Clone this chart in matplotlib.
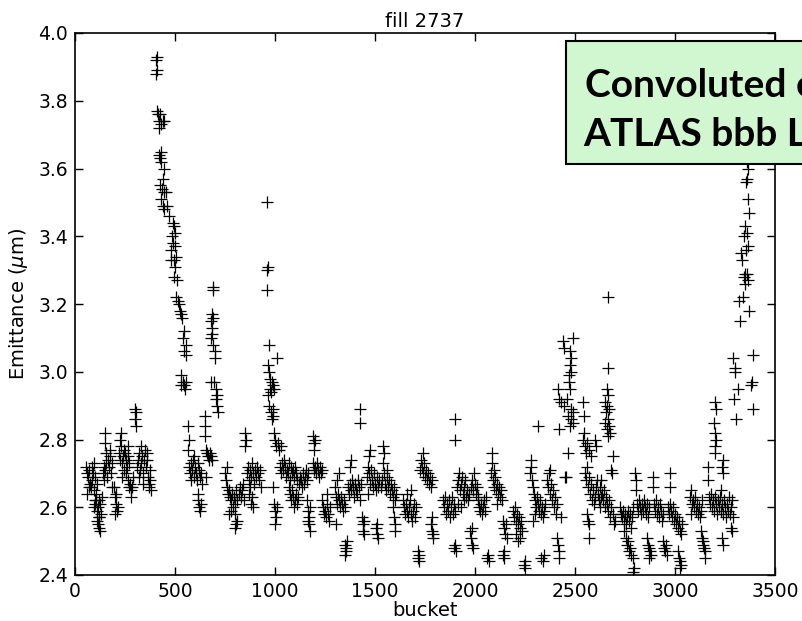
import matplotlib
matplotlib.use("Agg")
import matplotlib.pyplot as plt
from matplotlib.patches import Rectangle

# emittance per bucket, grouped by train
train_01 = [(55, 2.72), (60, 2.70), (65, 2.69), (70, 2.71), (75, 2.67), (80, 2.66), (85, 2.68), (90, 2.70),
            (95, 2.65), (100, 2.69), (105, 2.64), (110, 2.67), (60, 2.64), (70, 2.66), (85, 2.72), (95, 2.73),
            (100, 2.62), (95, 2.60), (100, 2.61), (105, 2.62), (110, 2.59), (115, 2.60), (120, 2.62),
            (125, 2.61), (130, 2.58), (135, 2.63), (120, 2.57), (110, 2.56), (115, 2.55), (118, 2.54),
            (122, 2.57), (125, 2.53)]
train_02 = [(140, 2.70), (145, 2.72), (150, 2.71), (155, 2.73), (160, 2.69), (165, 2.74), (170, 2.72),
            (175, 2.75), (180, 2.70), (185, 2.73), (150, 2.79), (150, 2.82), (155, 2.76), (145, 2.68),
            (175, 2.77), (185, 2.66), (195, 2.66), (200, 2.63), (205, 2.61), (210, 2.59), (200, 2.58),
            (205, 2.64), (215, 2.60)]
train_03 = [(220, 2.76), (225, 2.74), (230, 2.78), (235, 2.73), (240, 2.75), (245, 2.77), (250, 2.76),
            (255, 2.74), (260, 2.72), (265, 2.75), (230, 2.82), (225, 2.80), (245, 2.71), (255, 2.70),
            (270, 2.73), (235, 2.69), (265, 2.78), (265, 2.68), (270, 2.66), (275, 2.67), (280, 2.65),
            (285, 2.66), (280, 2.63), (290, 2.69)]
train_04 = [(300, 2.89), (305, 2.88), (300, 2.86), (305, 2.84), (310, 2.72), (315, 2.74), (320, 2.76),
            (325, 2.71), (330, 2.73), (335, 2.75), (340, 2.70), (345, 2.74), (350, 2.77), (355, 2.72),
            (360, 2.74), (365, 2.69), (370, 2.66), (375, 2.68), (380, 2.65), (370, 2.67), (375, 2.71),
            (320, 2.69), (340, 2.67), (360, 2.76), (330, 2.78)]
train_05 = [(405, 3.92), (410, 3.93), (405, 3.88), (410, 3.89), (410, 3.77), (415, 3.76), (420, 3.74),
            (425, 3.76), (430, 3.73), (440, 3.74), (445, 3.74), (420, 3.72), (420, 3.64), (425, 3.63),
            (430, 3.65), (430, 3.62), (445, 3.60), (440, 3.57), (425, 3.55), (435, 3.54), (445, 3.53),
            (430, 3.51), (455, 3.53), (440, 3.49), (445, 3.48), (460, 3.49), (470, 3.46), (490, 3.44),
            (495, 3.43), (485, 3.40), (500, 3.41), (490, 3.38), (480, 3.36), (500, 3.37), (505, 3.34),
            (495, 3.33), (480, 3.33), (500, 3.31), (495, 3.28), (510, 3.27), (505, 3.22), (515, 3.21),
            (520, 3.20), (525, 3.18), (530, 3.17), (535, 3.16), (545, 3.12), (540, 3.10), (555, 3.08),
            (545, 3.06), (555, 3.05), (530, 2.99), (540, 2.97), (545, 2.96), (530, 2.96), (555, 2.97),
            (550, 2.95)]
train_06 = [(565, 2.84), (570, 2.80), (565, 2.77), (570, 2.72), (575, 2.70), (580, 2.73), (585, 2.71),
            (590, 2.74), (595, 2.69), (600, 2.72), (605, 2.70), (610, 2.68), (615, 2.73), (620, 2.71),
            (625, 2.69), (630, 2.70), (635, 2.67), (580, 2.68), (595, 2.75), (650, 2.87), (650, 2.84),
            (650, 2.81), (655, 2.77), (660, 2.76), (665, 2.75), (670, 2.74), (675, 2.76), (680, 2.75),
            (685, 2.74), (655, 2.69), (615, 2.62), (620, 2.60), (625, 2.59), (615, 2.64), (630, 2.61)]
train_07 = [(690, 3.25), (690, 3.24), (685, 3.17), (690, 3.16), (680, 3.15), (685, 3.13), (680, 3.10),
            (690, 3.08), (685, 3.11), (700, 3.06), (700, 3.04), (695, 2.97), (680, 2.97), (705, 2.95),
            (710, 2.93), (705, 2.92), (710, 2.90), (715, 2.88)]
train_08 = [(750, 2.70), (755, 2.68), (760, 2.66), (765, 2.64), (770, 2.65), (775, 2.63), (780, 2.62),
            (785, 2.64), (790, 2.60), (795, 2.63), (800, 2.61), (805, 2.65), (810, 2.62), (760, 2.72),
            (770, 2.58), (780, 2.59), (800, 2.58), (805, 2.55), (810, 2.56), (800, 2.54), (820, 2.64),
            (825, 2.66), (830, 2.63), (835, 2.65), (840, 2.67), (845, 2.62), (850, 2.82), (855, 2.80),
            (850, 2.78)]
train_09 = [(860, 2.70), (865, 2.72), (870, 2.68), (875, 2.71), (880, 2.69), (885, 2.73), (890, 2.70),
            (895, 2.67), (900, 2.71), (905, 2.69), (910, 2.72), (915, 2.70), (920, 2.68), (870, 2.64),
            (880, 2.61), (885, 2.63), (890, 2.60), (875, 2.66), (925, 2.71), (930, 2.66)]
train_10 = [(960, 3.50), (960, 3.30), (965, 3.31), (960, 3.24), (970, 3.08), (1010, 3.04), (965, 3.02),
            (970, 3.00), (975, 2.98), (985, 2.97), (990, 2.96), (975, 2.95), (980, 2.94), (965, 2.93),
            (995, 2.95), (970, 2.90), (980, 2.88), (990, 2.87), (985, 2.86), (990, 2.89), (995, 2.82),
            (1000, 2.80), (1005, 2.78), (1015, 2.79), (1020, 2.77), (1030, 2.78), (990, 2.66),
            (995, 2.61), (1000, 2.59), (1005, 2.57), (1000, 2.55), (1010, 2.60)]
train_11 = [(1025, 2.72), (1030, 2.70), (1035, 2.73), (1040, 2.71), (1045, 2.74), (1050, 2.72),
            (1055, 2.69), (1060, 2.71), (1065, 2.70), (1070, 2.73), (1075, 2.68), (1080, 2.72),
            (1085, 2.70), (1090, 2.71), (1095, 2.69), (1100, 2.72), (1105, 2.70), (1110, 2.68),
            (1070, 2.66), (1075, 2.64), (1080, 2.62), (1085, 2.65), (1090, 2.63), (1095, 2.60),
            (1100, 2.62), (1105, 2.64), (1110, 2.61), (1115, 2.63), (1120, 2.67), (1125, 2.69),
            (1130, 2.68), (1135, 2.66), (1140, 2.70), (1145, 2.67), (1150, 2.69), (1155, 2.71),
            (1160, 2.68), (1165, 2.70), (1160, 2.62), (1165, 2.59), (1170, 2.57), (1175, 2.60),
            (1170, 2.55), (1175, 2.53), (1165, 2.56)]
train_12 = [(1190, 2.81), (1195, 2.79), (1200, 2.80), (1195, 2.77), (1190, 2.73), (1195, 2.71),
            (1200, 2.72), (1205, 2.70), (1210, 2.73), (1215, 2.71), (1220, 2.69), (1225, 2.72),
            (1230, 2.70), (1235, 2.71), (1235, 2.62), (1240, 2.60), (1245, 2.58), (1250, 2.59),
            (1255, 2.57), (1260, 2.61), (1265, 2.58), (1270, 2.56), (1275, 2.60), (1260, 2.64)]
train_13 = [(1300, 2.66), (1305, 2.63), (1310, 2.61), (1315, 2.64), (1320, 2.62), (1325, 2.60),
            (1330, 2.63), (1335, 2.61), (1340, 2.59), (1345, 2.62), (1350, 2.60), (1310, 2.68),
            (1320, 2.70), (1305, 2.55), (1350, 2.49), (1355, 2.48), (1355, 2.47), (1360, 2.50),
            (1350, 2.46)]
train_14 = [(1365, 2.66), (1370, 2.64), (1375, 2.67), (1380, 2.65), (1385, 2.68), (1390, 2.66),
            (1395, 2.63), (1400, 2.67), (1405, 2.65), (1410, 2.64), (1415, 2.68), (1420, 2.66),
            (1425, 2.62), (1375, 2.72), (1380, 2.74), (1430, 2.67), (1425, 2.89), (1425, 2.85),
            (1435, 2.57), (1440, 2.55), (1440, 2.53), (1445, 2.52), (1445, 2.56)]
train_15 = [(1460, 2.69), (1465, 2.72), (1470, 2.70), (1475, 2.67), (1480, 2.71), (1485, 2.68),
            (1490, 2.66), (1495, 2.70), (1500, 2.67), (1505, 2.65), (1510, 2.69), (1515, 2.66),
            (1520, 2.68), (1470, 2.75), (1475, 2.77), (1465, 2.64), (1505, 2.54), (1510, 2.52),
            (1515, 2.51), (1510, 2.55)]
train_16 = [(1530, 2.66), (1535, 2.68), (1540, 2.73), (1545, 2.76), (1540, 2.78), (1550, 2.67),
            (1555, 2.65), (1560, 2.69), (1565, 2.66), (1570, 2.68), (1575, 2.64), (1580, 2.67),
            (1585, 2.65), (1590, 2.63), (1595, 2.66), (1600, 2.62), (1605, 2.64), (1560, 2.71),
            (1545, 2.70), (1590, 2.60), (1595, 2.57), (1600, 2.55), (1600, 2.53)]
train_17 = [(1640, 2.62), (1645, 2.60), (1650, 2.58), (1655, 2.61), (1660, 2.59), (1665, 2.57),
            (1670, 2.60), (1675, 2.62), (1680, 2.58), (1685, 2.56), (1690, 2.59), (1695, 2.61),
            (1700, 2.57), (1705, 2.60), (1660, 2.64), (1680, 2.65), (1715, 2.47), (1715, 2.45),
            (1720, 2.44), (1720, 2.46)]
train_18 = [(1725, 2.71), (1730, 2.74), (1735, 2.72), (1740, 2.70), (1745, 2.73), (1750, 2.69),
            (1755, 2.71), (1760, 2.68), (1765, 2.70), (1770, 2.67), (1775, 2.69), (1780, 2.66),
            (1785, 2.68), (1740, 2.76), (1780, 2.55), (1785, 2.53), (1790, 2.52), (1785, 2.57),
            (1790, 2.51)]
train_19 = [(1840, 2.62), (1845, 2.60), (1850, 2.63), (1855, 2.58), (1860, 2.61), (1865, 2.59),
            (1870, 2.62), (1875, 2.57), (1880, 2.60), (1885, 2.63), (1890, 2.58), (1895, 2.61),
            (1900, 2.59), (1900, 2.86), (1900, 2.80), (1895, 2.48), (1900, 2.49), (1905, 2.47)]
train_20 = [(1910, 2.66), (1915, 2.68), (1920, 2.70), (1925, 2.65), (1930, 2.67), (1935, 2.69),
            (1940, 2.64), (1945, 2.66), (1950, 2.68), (1955, 2.63), (1960, 2.65), (1965, 2.62),
            (1970, 2.64), (1915, 2.61), (1930, 2.60), (1945, 2.62), (1980, 2.66), (1985, 2.68),
            (1990, 2.65), (1995, 2.70), (2000, 2.67), (2005, 2.64), (2010, 2.66), (2015, 2.63),
            (1975, 2.53), (1980, 2.51), (1985, 2.49), (1990, 2.48), (1985, 2.54)]
train_21 = [(2015, 2.62), (2020, 2.60), (2025, 2.59), (2030, 2.61), (2035, 2.58), (2040, 2.60),
            (2045, 2.62), (2050, 2.59), (2055, 2.63), (2060, 2.45), (2065, 2.46), (2070, 2.44),
            (2080, 2.70), (2085, 2.73), (2085, 2.76), (2090, 2.68), (2095, 2.66), (2100, 2.69),
            (2105, 2.65), (2110, 2.67), (2115, 2.64), (2120, 2.66), (2125, 2.63), (2130, 2.65),
            (2135, 2.62), (2095, 2.71), (2110, 2.61), (2140, 2.46), (2145, 2.45), (2145, 2.47),
            (2140, 2.56), (2145, 2.54), (2150, 2.52), (2155, 2.55), (2160, 2.51)]
train_22 = [(2190, 2.59), (2195, 2.57), (2200, 2.60), (2205, 2.56), (2210, 2.58), (2215, 2.55),
            (2220, 2.57), (2225, 2.54), (2230, 2.56), (2235, 2.53), (2205, 2.52), (2215, 2.50),
            (2225, 2.51), (2245, 2.43), (2250, 2.44), (2250, 2.42)]
train_23 = [(2275, 2.70), (2280, 2.72), (2285, 2.68), (2290, 2.66), (2280, 2.74), (2295, 2.64),
            (2300, 2.62), (2305, 2.60), (2310, 2.63), (2315, 2.61), (2320, 2.59), (2325, 2.62),
            (2330, 2.58), (2335, 2.60), (2340, 2.57), (2345, 2.59), (2350, 2.61), (2290, 2.56),
            (2300, 2.58), (2315, 2.84), (2330, 2.45), (2340, 2.44), (2345, 2.46)]
train_24 = [(2360, 2.68), (2365, 2.66), (2370, 2.70), (2375, 2.64), (2380, 2.67), (2385, 2.62),
            (2390, 2.65), (2395, 2.60), (2400, 2.63), (2405, 2.58), (2410, 2.61), (2375, 2.71),
            (2410, 2.51), (2415, 2.49), (2420, 2.47), (2420, 2.45), (2430, 2.57), (2450, 2.69)]
train_25 = [(2440, 3.09), (2490, 3.10), (2445, 3.07), (2475, 3.06), (2480, 3.04), (2475, 3.02),
            (2480, 3.00), (2470, 2.99), (2470, 2.97), (2475, 2.95), (2415, 2.95), (2420, 2.92),
            (2430, 2.91), (2445, 2.90), (2460, 2.92), (2480, 2.89), (2490, 2.88), (2465, 2.87),
            (2480, 2.86), (2490, 2.85), (2420, 2.83), (2475, 2.84), (2540, 2.91), (2545, 2.87),
            (2465, 2.76), (2455, 2.69)]
train_26 = [(2540, 2.80), (2545, 2.82), (2550, 2.78), (2555, 2.76), (2560, 2.79), (2570, 2.77),
            (2580, 2.75), (2600, 2.80), (2605, 2.78), (2550, 2.70), (2555, 2.68), (2560, 2.72),
            (2565, 2.66), (2570, 2.69), (2575, 2.64), (2580, 2.67), (2585, 2.62), (2590, 2.65),
            (2595, 2.61), (2600, 2.63), (2605, 2.66), (2610, 2.68), (2615, 2.64), (2620, 2.62),
            (2625, 2.60), (2630, 2.63), (2560, 2.58), (2565, 2.56), (2570, 2.55), (2570, 2.51)]
train_27 = [(2665, 3.22), (2665, 3.01), (2660, 2.95), (2665, 2.93), (2650, 2.91), (2660, 2.90),
            (2670, 2.89), (2655, 2.88), (2665, 2.86), (2650, 2.85), (2670, 2.84), (2660, 2.83),
            (2675, 2.82), (2665, 2.81), (2690, 2.75), (2685, 2.70), (2680, 2.71), (2625, 2.66),
            (2630, 2.68), (2635, 2.64), (2640, 2.62), (2645, 2.65), (2650, 2.60), (2655, 2.63),
            (2660, 2.61), (2665, 2.59), (2670, 2.62), (2675, 2.57), (2680, 2.60), (2690, 2.58),
            (2695, 2.55), (2700, 2.56)]
train_28 = [(2725, 2.60), (2730, 2.58), (2735, 2.57), (2740, 2.59), (2745, 2.56), (2750, 2.58),
            (2755, 2.55), (2760, 2.57), (2765, 2.59), (2770, 2.56), (2775, 2.58), (2780, 2.54),
            (2785, 2.57), (2790, 2.60), (2745, 2.53), (2755, 2.51), (2760, 2.49), (2765, 2.50),
            (2770, 2.47), (2775, 2.48), (2780, 2.46), (2790, 2.45), (2795, 2.42), (2790, 2.41)]
train_29 = [(2800, 2.70), (2805, 2.68), (2805, 2.65), (2810, 2.61), (2815, 2.59), (2820, 2.62),
            (2825, 2.60), (2830, 2.58), (2835, 2.61), (2840, 2.59), (2845, 2.62), (2850, 2.60),
            (2855, 2.58), (2860, 2.61), (2865, 2.57), (2870, 2.60), (2860, 2.51), (2865, 2.49),
            (2870, 2.48), (2875, 2.47), (2880, 2.46), (2870, 2.45)]
train_30 = [(2890, 2.69), (2890, 2.66), (2895, 2.61), (2900, 2.59), (2905, 2.62), (2910, 2.58),
            (2915, 2.60), (2920, 2.57), (2925, 2.61), (2930, 2.59), (2935, 2.56), (2940, 2.58),
            (2940, 2.50), (2945, 2.48), (2950, 2.47), (2955, 2.49), (2960, 2.46)]
train_31 = [(2975, 2.70), (2975, 2.66), (2965, 2.60), (2970, 2.58), (2975, 2.61), (2980, 2.59),
            (2985, 2.57), (2990, 2.60), (2995, 2.56), (3000, 2.58), (3005, 2.55), (3010, 2.57),
            (3015, 2.54), (3020, 2.56), (3025, 2.53), (3030, 2.52), (3035, 2.55), (3015, 2.47),
            (3020, 2.45), (3025, 2.44), (3030, 2.43), (3025, 2.42)]
train_32 = [(3075, 2.63), (3080, 2.65), (3085, 2.61), (3090, 2.62), (3095, 2.60), (3100, 2.63),
            (3105, 2.59), (3110, 2.61), (3115, 2.58), (3120, 2.60), (3125, 2.57), (3130, 2.59),
            (3135, 2.62), (3080, 2.58), (3130, 2.53), (3135, 2.51), (3140, 2.50), (3145, 2.48),
            (3150, 2.47), (3150, 2.45), (3140, 2.49)]
train_33 = [(3165, 2.72), (3165, 2.68), (3170, 2.63), (3175, 2.61), (3180, 2.64), (3185, 2.60),
            (3190, 2.62), (3195, 2.59), (3200, 2.63), (3205, 2.61), (3210, 2.58), (3200, 2.91),
            (3205, 2.89), (3195, 2.85), (3200, 2.82), (3205, 2.80), (3200, 2.78), (3200, 2.76),
            (3240, 2.74), (3235, 2.72), (3240, 2.70), (3230, 2.65)]
train_34 = [(3215, 2.62), (3220, 2.60), (3225, 2.63), (3230, 2.59), (3235, 2.61), (3240, 2.58),
            (3245, 2.62), (3250, 2.60), (3255, 2.57), (3260, 2.61), (3265, 2.59), (3270, 2.63),
            (3275, 2.58), (3280, 2.60), (3285, 2.62), (3235, 2.51), (3240, 2.49), (3280, 2.54),
            (3285, 2.53), (3290, 2.57)]
train_35 = [(3290, 3.04), (3300, 3.01), (3300, 3.00), (3315, 2.95), (3295, 2.92), (3305, 2.86),
            (3390, 3.05), (3385, 2.97), (3380, 2.96), (3390, 2.89), (3325, 3.15), (3370, 3.18),
            (3320, 3.21), (3340, 3.22), (3350, 3.26), (3365, 3.27), (3345, 3.28), (3350, 3.29),
            (3360, 3.29), (3335, 3.33), (3330, 3.35), (3355, 3.36), (3365, 3.37), (3345, 3.40),
            (3360, 3.41), (3350, 3.43), (3370, 3.47), (3365, 3.51), (3355, 3.56), (3360, 3.57),
            (3365, 3.60), (3360, 3.62)]

trains = [train_01, train_02, train_03, train_04, train_05, train_06, train_07, train_08, train_09,
          train_10, train_11, train_12, train_13, train_14, train_15, train_16, train_17, train_18,
          train_19, train_20, train_21, train_22, train_23, train_24, train_25, train_26, train_27,
          train_28, train_29, train_30, train_31, train_32, train_33, train_34, train_35]

bucket = [p[0] for t in trains for p in t]
emittance = [p[1] for t in trains for p in t]

x_ticks = [0, 500, 1000, 1500, 2000, 2500, 3000, 3500]
y_ticks = [2.4, 2.6, 2.8, 3.0, 3.2, 3.4, 3.6, 3.8, 4.0]
note_lines = ["Convoluted e", "ATLAS bbb L"]

fig = plt.figure(figsize=(8.02, 6.21), dpi=100)
ax = fig.add_axes([75 / 802, 46 / 621, 700 / 802, 542 / 621])

ax.plot(bucket, emittance, linestyle="none", marker="+", color="black",
        markersize=8, markeredgewidth=0.9)

ax.set_xlim(0, 3500)
ax.set_ylim(2.4, 4.0)
ax.set_xticks(x_ticks)
ax.set_yticks(y_ticks)
ax.set_yticklabels(["%.1f" % v for v in y_ticks])
ax.tick_params(direction="in", top=True, right=True, length=6, width=1, labelsize=13.5, pad=5)
for s in ax.spines.values():
    s.set_linewidth(1.2)

ax.set_title("fill 2737", fontsize=14, pad=4)
ax.set_xlabel("bucket", fontsize=14, labelpad=0)
ax.set_ylabel(r"Emittance ($\mu$m)", fontsize=14, labelpad=6)

# green note box, runs off the right edge of the figure
box = Rectangle((566 / 802, 1 - 164 / 621), 0.4, 123 / 621, transform=fig.transFigure,
                facecolor="#d0f7d0", edgecolor="black", linewidth=1.5, zorder=5)
fig.patches.append(box)
fig.text(585 / 802, 1 - 97 / 621, note_lines[0], fontsize=28, fontweight="bold",
         family="Lato", ha="left", va="baseline", zorder=6)
fig.text(583 / 802, 1 - 146 / 621, note_lines[1], fontsize=28, fontweight="bold",
         family="Lato", ha="left", va="baseline", zorder=6)

fig.savefig("out.png", dpi=100)
